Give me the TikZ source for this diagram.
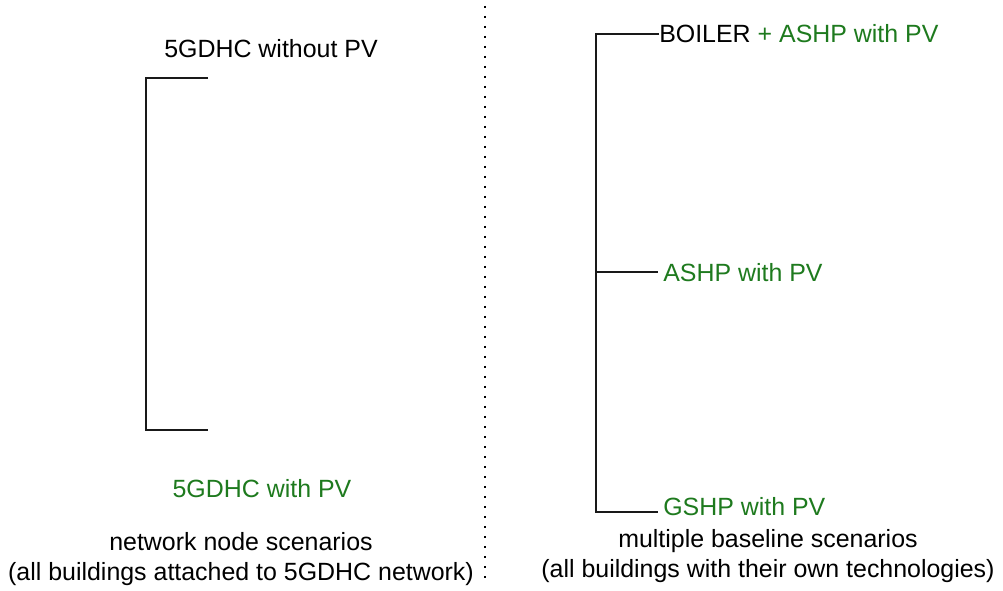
\documentclass[tikz,border=0pt]{standalone}
\usepackage{fontspec}
\setmainfont{Liberation Sans}
\definecolor{grn}{RGB}{30,122,30}
\begin{document}
\begin{tikzpicture}[x=0.75pt,y=-0.75pt,
  lbl/.style={inner sep=0pt,font=\fontsize{18.7pt}{22.5pt}\selectfont},
  brk/.style={line width=1.6pt,black!90},
  dots/.style={line width=1.5pt,dash pattern=on 1.5pt off 6pt}]
\useasboundingbox (0,0) rectangle (1003,591);
% left
\node[lbl,anchor=center] (t1) at (271,49) {5GDHC without PV};
\node[lbl,anchor=center,text=grn] (t2) at (262,489) {5GDHC with PV};
\coordinate (la) at (208,78);
\coordinate (lb) at (208,430);
\draw[brk] (la) -- (146,78) -- (146,430) -- (lb);
\node[lbl,anchor=center,align=center] (c1) at (241,559) {network node scenarios\\(all buildings attached to 5GDHC network)};
% divider
\coordinate (d1) at (485,6);
\coordinate (d2) at (485,585);
\draw[dots] (d1) -- (d2);
% right
\node[lbl,anchor=west] (r1) at (659,34) {BOILER \textcolor{grn}{+ ASHP with PV}};
\node[lbl,anchor=west,text=grn] (r2) at (663,273) {ASHP with PV};
\node[lbl,anchor=west,text=grn] (r3) at (663,507) {GSHP with PV};
\draw[brk] (r1.west) -- (596,34) -- (596,512) -- (658,512);
\draw[brk] (596,272) -- (658,272);
\node[lbl,anchor=center,align=center] (c2) at (768,556) {multiple baseline scenarios\\(all buildings with their own technologies)};
\end{tikzpicture}
\end{document}
